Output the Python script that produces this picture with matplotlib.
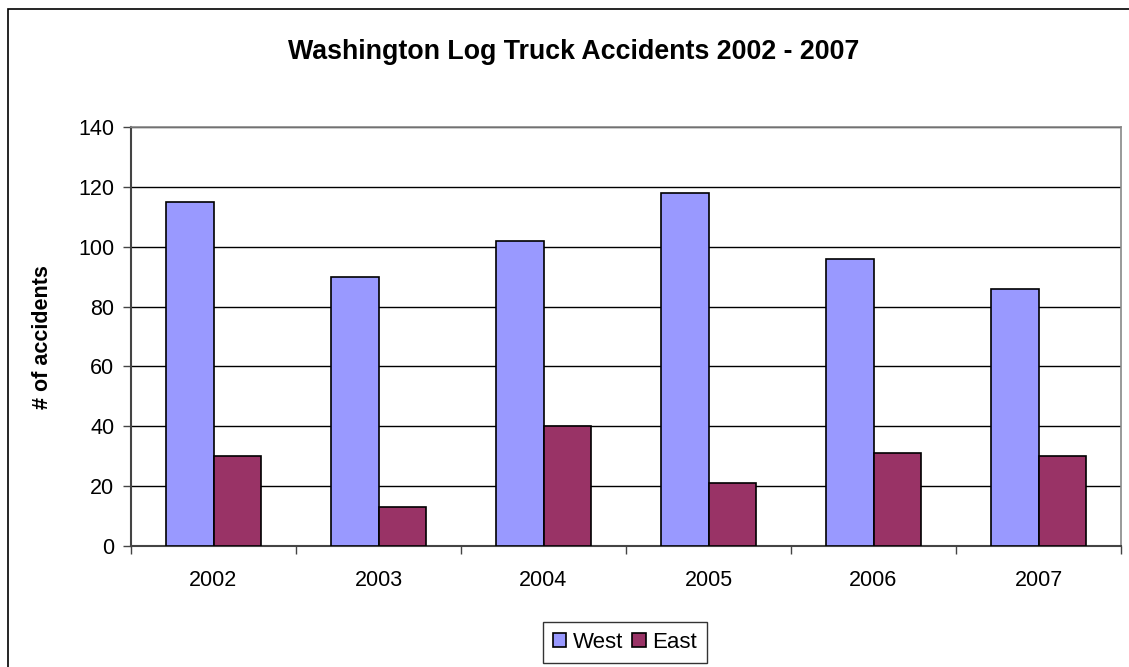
import matplotlib
matplotlib.use("Agg")
import matplotlib.pyplot as plt
import matplotlib.patches as patches
import numpy as np

plt.rcParams['font.family'] = ['Liberation Sans', 'DejaVu Sans']

# data
years = ['2002', '2003', '2004', '2005', '2006', '2007']
west = [115, 90, 102, 118, 96, 86]
east = [30, 13, 40, 21, 31, 30]

W, H = 1129, 667
fig = plt.figure(figsize=(W / 100, H / 100), dpi=100)

# plot area in pixel terms
left, right, top, bottom = 131, 1121, 127, 546
ax = fig.add_axes([left / W, 1 - bottom / H, (right - left) / W, (bottom - top) / H])

x = np.arange(len(years))
width = 1 / 3.5  # excel gap width 150%

ax.bar(x - width / 2, west, width=width, color='#9999FF', edgecolor='black',
       linewidth=1.2, label='West', zorder=3)
ax.bar(x + width / 2, east, width=width, color='#993366', edgecolor='black',
       linewidth=1.2, label='East', zorder=3)

ax.set_xlim(-0.5, len(years) - 0.5)
ax.set_ylim(0, 140)
ax.set_yticks(range(0, 141, 20))
ax.yaxis.grid(True, color='black', linewidth=1, zorder=0)

# categories labelled in the middle, ticks on the boundaries
ax.set_xticks(x)
ax.set_xticklabels(years, fontsize=15.5)
ax.tick_params(axis='x', length=0, pad=17)
ax.set_xticks(np.arange(-0.5, len(years)), minor=True)
ax.tick_params(axis='x', which='minor', length=6, color='#444444', width=1)
ax.tick_params(axis='y', labelsize=15.5, length=6, width=1, color='#444444', pad=6)

for s in ['top', 'right']:
    ax.spines[s].set_color('#888888')
    ax.spines[s].set_linewidth(1.2)
for s in ['left', 'bottom']:
    ax.spines[s].set_color('#444444')
    ax.spines[s].set_linewidth(1.5)

fig.text(574 / W, 1 - 52 / H, 'Washington Log Truck Accidents 2002 - 2007',
         ha='center', va='center', fontsize=19.3, fontweight='bold')
fig.text(42 / W, 1 - 337 / H, '# of accidents', rotation=90,
         ha='center', va='center', fontsize=15.5, fontweight='bold')

leg = fig.legend(loc='center', bbox_to_anchor=(625 / W, 1 - 642 / H), ncol=2,
                 fontsize=16, frameon=True, fancybox=False, edgecolor='black',
                 handlelength=0.6, handleheight=0.6, handletextpad=0.3,
                 columnspacing=0.4, borderpad=0.45)
leg.get_frame().set_linewidth(1)

# outer chart border (right and bottom edges fall outside the picture)
fig.patches.append(patches.Rectangle((8 / W, -0.1), 2, 1 - 9 / H + 0.1,
                                     transform=fig.transFigure, fill=False,
                                     edgecolor='black', linewidth=1.2))

fig.savefig('out.png', dpi=100)
